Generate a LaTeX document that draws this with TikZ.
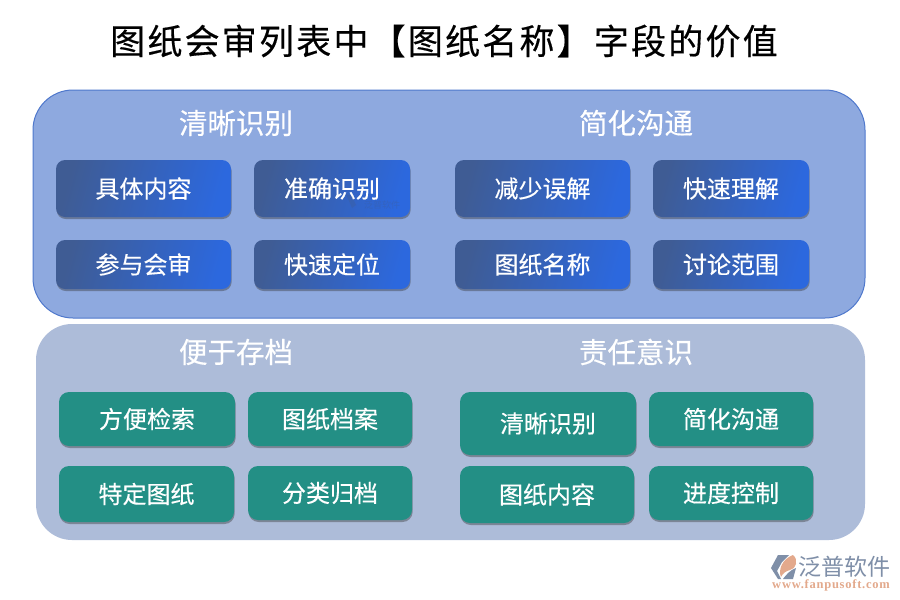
\documentclass[tikz,border=0pt]{standalone}
\usepackage{fontspec}
\setmainfont{Noto Sans CJK SC}
\newfontfamily\boldish[FakeBold=0.35]{Noto Sans CJK SC}
\newfontfamily\wwwfont{Liberation Serif}
\usetikzlibrary{shadows,calc}
\definecolor{topfill}{HTML}{8EA9DF}
\definecolor{topline}{HTML}{4F78CC}
\definecolor{botfill}{HTML}{ADBCD9}
\definecolor{bluedark}{HTML}{3F5C94}
\definecolor{bluelight}{HTML}{2C68DE}
\definecolor{teal}{HTML}{238F85}
\definecolor{logogrey}{HTML}{7F8FA8}
\definecolor{logoorange}{HTML}{E3A98C}
\tikzset{
  softshadow/.style={drop shadow={shadow xshift=0.6pt,shadow yshift=-2pt,opacity=.4,fill=black!80}},
  panel/.style={rounded corners=#1,inner sep=0pt,anchor=center},
  bluebox/.style={rounded corners=9pt,inner sep=0pt,softshadow,left color=bluedark,right color=bluelight,shading angle=75,text=white,font=\boldish\fontsize{24}{24}\selectfont},
  tealbox/.style={rounded corners=10pt,inner sep=0pt,softshadow,fill=teal,text=white,font=\boldish\fontsize{24}{24}\selectfont},
  headline/.style={text=white,inner sep=0pt,font=\boldish\fontsize{28.5}{28.5}\selectfont},
}
\newcommand{\bx}[7]{% name, style, x0,y0,x1,y1,text
  \node[#2,minimum width={(#5-#3)*1pt},minimum height={(#6-#4)*1pt}] (#1) at ({(#3+#5)/2},{(#4+#6)/2}) {\raisebox{1pt}{#7}};}
\begin{document}
\begin{tikzpicture}[x=1pt,y=-1pt]
\useasboundingbox[fill=white] (0,0) rectangle (900,600);
\node[inner sep=0pt,text=black,font=\boldish\fontsize{35}{35}\selectfont] (title) at (444,41) {\addfontfeature{LetterSpace=6.3}图纸会审列表中【图纸名称】字段的价值};
\bx{toppanel}{panel=40pt,fill=topfill,draw=topline,line width=1pt}{33}{90}{865}{318}{}
\bx{botpanel}{panel=36pt,fill=botfill}{36}{324}{865}{540}{}
\node[headline] (h1) at (236,123) {清晰识别};
\node[headline] (h2) at (636,123) {简化沟通};
\node[headline] (h3) at (236,352) {便于存档};
\node[headline] (h4) at (636,352) {责任意识};
\bx{a1}{bluebox}{56}{160}{231}{217}{具体内容}
\bx{a2}{bluebox}{254}{160}{410}{217}{准确识别}
\bx{a3}{bluebox}{56}{240}{231}{289}{参与会审}
\bx{a4}{bluebox}{254}{240}{410}{289}{快速定位}
\bx{b1}{bluebox}{455}{160}{630}{217}{减少误解}
\bx{b2}{bluebox}{653}{160}{809}{217}{快速理解}
\bx{b3}{bluebox}{455}{240}{630}{289}{图纸名称}
\bx{b4}{bluebox}{653}{240}{809}{289}{讨论范围}
\bx{c1}{tealbox}{59}{392}{235}{446}{方便检索}
\bx{c2}{tealbox}{248}{392}{412}{446}{图纸档案}
\bx{c3}{tealbox}{59}{466}{234}{522}{特定图纸}
\bx{c4}{tealbox}{248}{466}{412}{520}{分类归档}
\bx{d1}{tealbox}{460}{392}{636}{455}{清晰识别}
\bx{d2}{tealbox}{649}{392}{813}{446}{简化沟通}
\bx{d3}{tealbox}{460}{466}{634}{523}{图纸内容}
\bx{d4}{tealbox}{649}{466}{813}{520}{进度控制}
% faint watermark
\node[inner sep=0pt,text=bluedark,opacity=.35,font=\fontsize{9}{9}\selectfont] (wm) at (382,205) {泛普软件};
\fill[bluedark,opacity=.35] (346,194) -- (352,196) -- (356,205) -- (352,208) -- cycle;
% logo
\fill[logogrey] (778,555) -- (789,555) -- (782,562) -- (777,571) -- (781,579) -- (778,579) -- (771,568) -- cycle;
\fill[logoorange] (793,555) .. controls (799,560) and (796,569) .. (790,570) .. controls (786,571) and (783,573) .. (781,577) .. controls (778,570) and (782,559) .. (793,555) -- cycle;
\fill[logogrey] (796,568) -- (793,579) -- (783,579) .. controls (786,575) and (790,570) .. (796,568) -- cycle;
\node[inner sep=0pt,text=logogrey,font=\fontsize{23}{23}\selectfont] (logotext) at (844,567) {泛普软件};
\node[inner sep=0pt,text=logoorange,font=\wwwfont\bfseries\fontsize{12.5}{13}\selectfont] (logourl) at (831,585) {\addfontfeature{LetterSpace=6}www.fanpusoft.com};
\end{tikzpicture}
\end{document}
